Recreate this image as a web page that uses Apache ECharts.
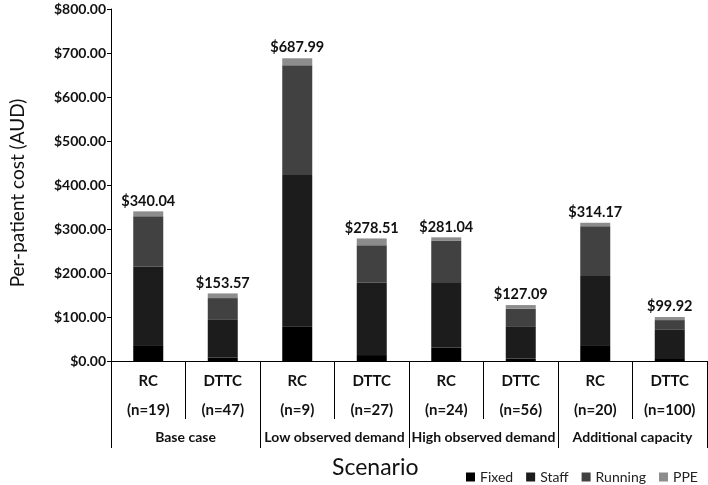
<!DOCTYPE html>
<html>
<head>
<meta charset="utf-8">
<script src="https://cdn.jsdelivr.net/npm/echarts@6/dist/echarts.min.js"></script>
<style>html,body{margin:0;padding:0;background:#fff}#c{width:708px;height:485px}</style>
</head>
<body>
<div id="c"></div>
<script>
const categories = ['RC', 'DTTC', 'RC', 'DTTC', 'RC', 'DTTC', 'RC', 'DTTC'];
const sampleSizes = ['(n=19)', '(n=47)', '(n=9)', '(n=27)', '(n=24)', '(n=56)', '(n=20)', '(n=100)'];
const scenarios = ['Base case', 'Low observed demand', 'High observed demand', 'Additional capacity'];
const fixed = [36, 8, 79, 13.5, 30, 6, 36, 4.5];
const staff = [178, 87, 344, 164.5, 147, 73, 157, 67.5];
const running = [115, 48, 249, 85, 97, 40, 113.5, 21];
const ppe = [11.04, 10.57, 15.99, 15.51, 7.04, 8.09, 7.67, 6.92];
const totals = [340.04, 153.57, 687.99, 278.51, 281.04, 127.09, 314.17, 99.92];
const yTicks = [0, 100, 200, 300, 400, 500, 600, 700, 800];

const FONT = 'Lato';
const chart = echarts.init(document.getElementById('c'), null, {renderer: 'canvas'});
const mk = (name, data, color) => ({
  name, type: 'bar', stack: 'total', data, barWidth: 30,
  itemStyle: {color},
  emphasis: {disabled: true}
});
const series = [
  mk('Fixed', fixed, '#000000'),
  mk('Staff', staff, '#1c1c1c'),
  mk('Running', running, '#414141'),
  mk('PPE', ppe, '#8c8c8c')
];
series[3].label = {
  show: true, position: 'top', distance: 3,
  formatter: p => '$' + totals[p.dataIndex].toFixed(2),
  fontFamily: FONT, fontSize: 14.5, fontWeight: 'bold', color: '#111'
};

chart.setOption({
  animation: false,
  textStyle: {fontFamily: FONT},
  grid: {left: 103, right: 1, top: 9, bottom: 124, containLabel: false},
  title: {
    text: 'Scenario', left: 327, top: 451,
    textStyle: {fontFamily: FONT, fontSize: 23, fontWeight: 'normal', color: '#111'}
  },
  legend: {
    data: ['Fixed', 'Staff', 'Running', 'PPE'],
    left: 461, top: 465, icon: 'rect', itemWidth: 9, itemHeight: 9, itemGap: 13,
    textStyle: {fontFamily: FONT, fontSize: 14, color: '#222'},
    selectedMode: false
  },
  xAxis: [
    {
      type: 'category', data: categories, position: 'bottom',
      axisLine: {show: true, lineStyle: {color: '#000', width: 1}},
      axisTick: {show: true, interval: 0, length: 58, lineStyle: {color: '#000'}},
      axisLabel: {
        interval: 0, margin: 6,
        formatter: (v, i) => '{a|' + v + '}\n{b|' + sampleSizes[i] + '}',
        rich: {
          a: {fontFamily: FONT, fontSize: 15, fontWeight: 'bold', color: '#111', lineHeight: 29},
          b: {fontFamily: FONT, fontSize: 15, fontWeight: 'bold', color: '#111', lineHeight: 29}
        }
      }
    },
    {
      type: 'category', data: scenarios, position: 'bottom', gridIndex: 0,
      axisLine: {show: false},
      axisTick: {show: true, interval: 0, length: 87, lineStyle: {color: '#000'}},
      axisLabel: {
        interval: 0, margin: 69,
        fontFamily: FONT, fontSize: 14, fontWeight: 'bold', color: '#111'
      }
    }
  ],
  yAxis: {
    type: 'value', min: 0, max: 800, interval: 100,
    axisLine: {show: true, lineStyle: {color: '#000'}},
    axisTick: {show: true, length: 4, lineStyle: {color: '#000'}},
    splitLine: {show: false},
    axisLabel: {
      margin: 5, fontFamily: FONT, fontSize: 14, fontWeight: 'bold', color: '#111',
      formatter: v => '$' + v.toFixed(2)
    },
    name: 'Per-patient cost (AUD)', nameLocation: 'middle', nameGap: 84,
    nameTextStyle: {fontFamily: FONT, fontSize: 19, color: '#111', padding: [0, 0, 0, -16]}
  },
  series
});
</script>
</body>
</html>
